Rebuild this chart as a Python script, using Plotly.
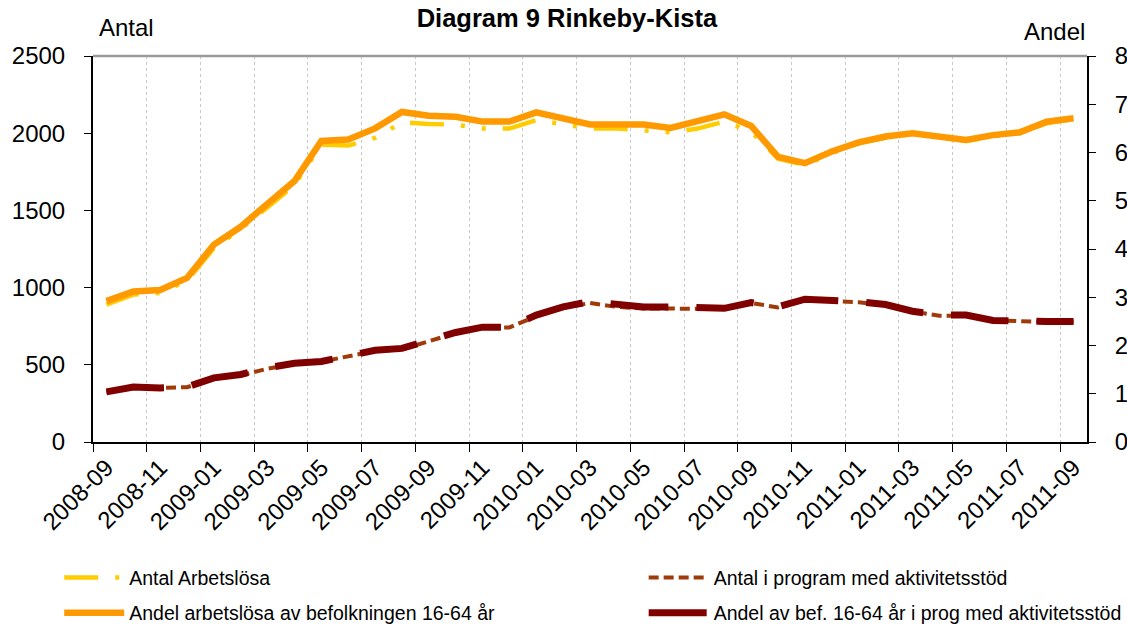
import plotly.graph_objects as go

# monthly categories, 2008-09 .. 2011-09
months = [
    "2008-09", "2008-10", "2008-11", "2008-12",
    "2009-01", "2009-02", "2009-03", "2009-04", "2009-05", "2009-06",
    "2009-07", "2009-08", "2009-09", "2009-10", "2009-11", "2009-12",
    "2010-01", "2010-02", "2010-03", "2010-04", "2010-05", "2010-06",
    "2010-07", "2010-08", "2010-09", "2010-10", "2010-11", "2010-12",
    "2011-01", "2011-02", "2011-03", "2011-04", "2011-05", "2011-06",
    "2011-07", "2011-08", "2011-09",
]

# left axis (Antal)
antal_arbetslosa = [
    890, 955, 965, 1045, 1255, 1380, 1520, 1665, 1925, 1920,
    1970, 2070, 2060, 2055, 2030, 2030, 2085, 2060, 2030, 2030,
    2015, 2005, 2030, 2075, 2010, 1835, 1795, 1870, 1935, 1970,
    1995, 1970, 1950, 1980, 2000, 2065, 2090,
]
antal_program = [
    320, 350, 350, 355, 410, 432, 475, 505, 520, 558,
    590, 600, 650, 705, 740, 742, 815, 870, 900, 875,
    865, 865, 860, 862, 900, 872, 920, 915, 905, 885,
    845, 818, 818, 788, 780, 778, 778,
]

# right axis (Andel, %)
andel_arbetslosa = [
    2.92, 3.12, 3.15, 3.40, 4.09, 4.46, 4.94, 5.41, 6.24, 6.27,
    6.50, 6.84, 6.76, 6.74, 6.64, 6.64, 6.83, 6.71, 6.58, 6.58,
    6.58, 6.51, 6.64, 6.79, 6.55, 5.91, 5.78, 6.02, 6.21, 6.33,
    6.40, 6.33, 6.26, 6.36, 6.42, 6.64, 6.71,
]
andel_program = [
    1.04, 1.14, 1.12, 1.14, 1.33, 1.40, 1.54, 1.63, 1.67, 1.80,
    1.90, 1.94, 2.09, 2.27, 2.38, 2.38, 2.63, 2.80, 2.91, 2.84,
    2.80, 2.80, 2.77, 2.77, 2.89, 2.80, 2.96, 2.94, 2.91, 2.85,
    2.71, 2.63, 2.63, 2.52, 2.50, 2.50, 2.50,
]

FONT = "Arial, Liberation Sans, sans-serif"
x = list(range(len(months)))

fig = go.Figure()
fig.add_scatter(
    x=x, y=antal_arbetslosa, name="Antal Arbetslösa", mode="lines",
    line=dict(color="#FFCC00", width=4.5, dash="34px,17px,4px,17px,4px,17px"),
    legend="legend", showlegend=True,
)
fig.add_scatter(
    x=x, y=antal_program, name="Antal i program med aktivitetsstöd", mode="lines",
    line=dict(color="#A03A08", width=4, dash="10px,5px"),
    legend="legend2", showlegend=True,
)
fig.add_scatter(
    x=x, y=andel_arbetslosa, name="Andel arbetslösa av befolkningen 16-64 år",
    mode="lines", line=dict(color="#FF9900", width=6.5), yaxis="y2",
    legend="legend3", showlegend=True,
)
fig.add_scatter(
    x=x, y=andel_program, name="Andel av bef. 16-64 år i prog med aktivitetsstöd",
    mode="lines", line=dict(color="#800000", width=7, dash="58px,28px"), yaxis="y2",
    legend="legend4", showlegend=True,
)

legend_style = dict(
    orientation="h", xanchor="left", yanchor="middle",
    font=dict(family=FONT, size=19.5, color="black"),
    itemwidth=60, bgcolor="rgba(0,0,0,0)",
)
col1, col2 = -0.034, 0.554
row1, row2 = -0.352, -0.443

fig.update_layout(
    width=1127, height=630,
    margin=dict(l=93, r=40, t=56, b=188, autoexpand=False),
    showlegend=True,
    paper_bgcolor="white", plot_bgcolor="white",
    font=dict(family=FONT, size=24, color="black"),
    title=dict(
        text="<b>Diagram 9 Rinkeby-Kista</b>", x=0.503, xanchor="center",
        y=0.972, yanchor="middle", font=dict(size=25.5, family=FONT),
    ),
    xaxis=dict(
        range=[-0.5, len(months) - 0.5], automargin=False,
        tickmode="array", tickvals=x[::2], ticktext=months[::2],
        tickangle=-45, ticks="", showgrid=False, zeroline=False,
        showline=True, linecolor="black", linewidth=2,
        tickfont=dict(size=24),
        minor=dict(
            tick0=1.5, dtick=2, ticks="outside", ticklen=8, tickcolor="black",
            tickwidth=1, showgrid=True, gridcolor="#C8C8C8", griddash="dot",
            gridwidth=1,
        ),
    ),
    yaxis=dict(
        range=[0, 2500], dtick=500, ticks="outside", ticklen=7, tickcolor="black",
        showgrid=False, zeroline=False, showline=True, linecolor="black",
        linewidth=2, ticklabelstandoff=14, tickfont=dict(size=24), automargin=False,
    ),
    yaxis2=dict(
        range=[0, 8], dtick=1, overlaying="y", side="right", ticks="outside",
        ticklen=7, tickcolor="black", showgrid=False, zeroline=False,
        showline=True, linecolor="black", linewidth=2, ticklabelstandoff=14,
        tickfont=dict(size=24), automargin=False,
    ),
    legend=dict(legend_style, x=col1, y=row1),
    legend2=dict(legend_style, x=col2, y=row1),
    legend3=dict(legend_style, x=col1, y=row2),
    legend4=dict(legend_style, x=col2, y=row2),
    shapes=[
        dict(type="line", xref="paper", yref="paper", x0=0, x1=1, y0=1, y1=1,
             line=dict(color="#9A9A9A", width=2.5)),
    ],
    annotations=[
        dict(text="Antal", xref="paper", yref="paper", x=0.004, y=1.075,
             xanchor="left", yanchor="middle", showarrow=False,
             font=dict(size=24, family=FONT)),
        dict(text="Andel", xref="paper", yref="paper", x=1.0, y=1.063,
             xanchor="right", yanchor="middle", showarrow=False,
             font=dict(size=24, family=FONT)),
    ],
)

fig.write_html(
    "out.html",
    config={"displayModeBar": False},
    post_script="document.body.style.margin='0px';document.body.style.overflow='hidden';",
)
